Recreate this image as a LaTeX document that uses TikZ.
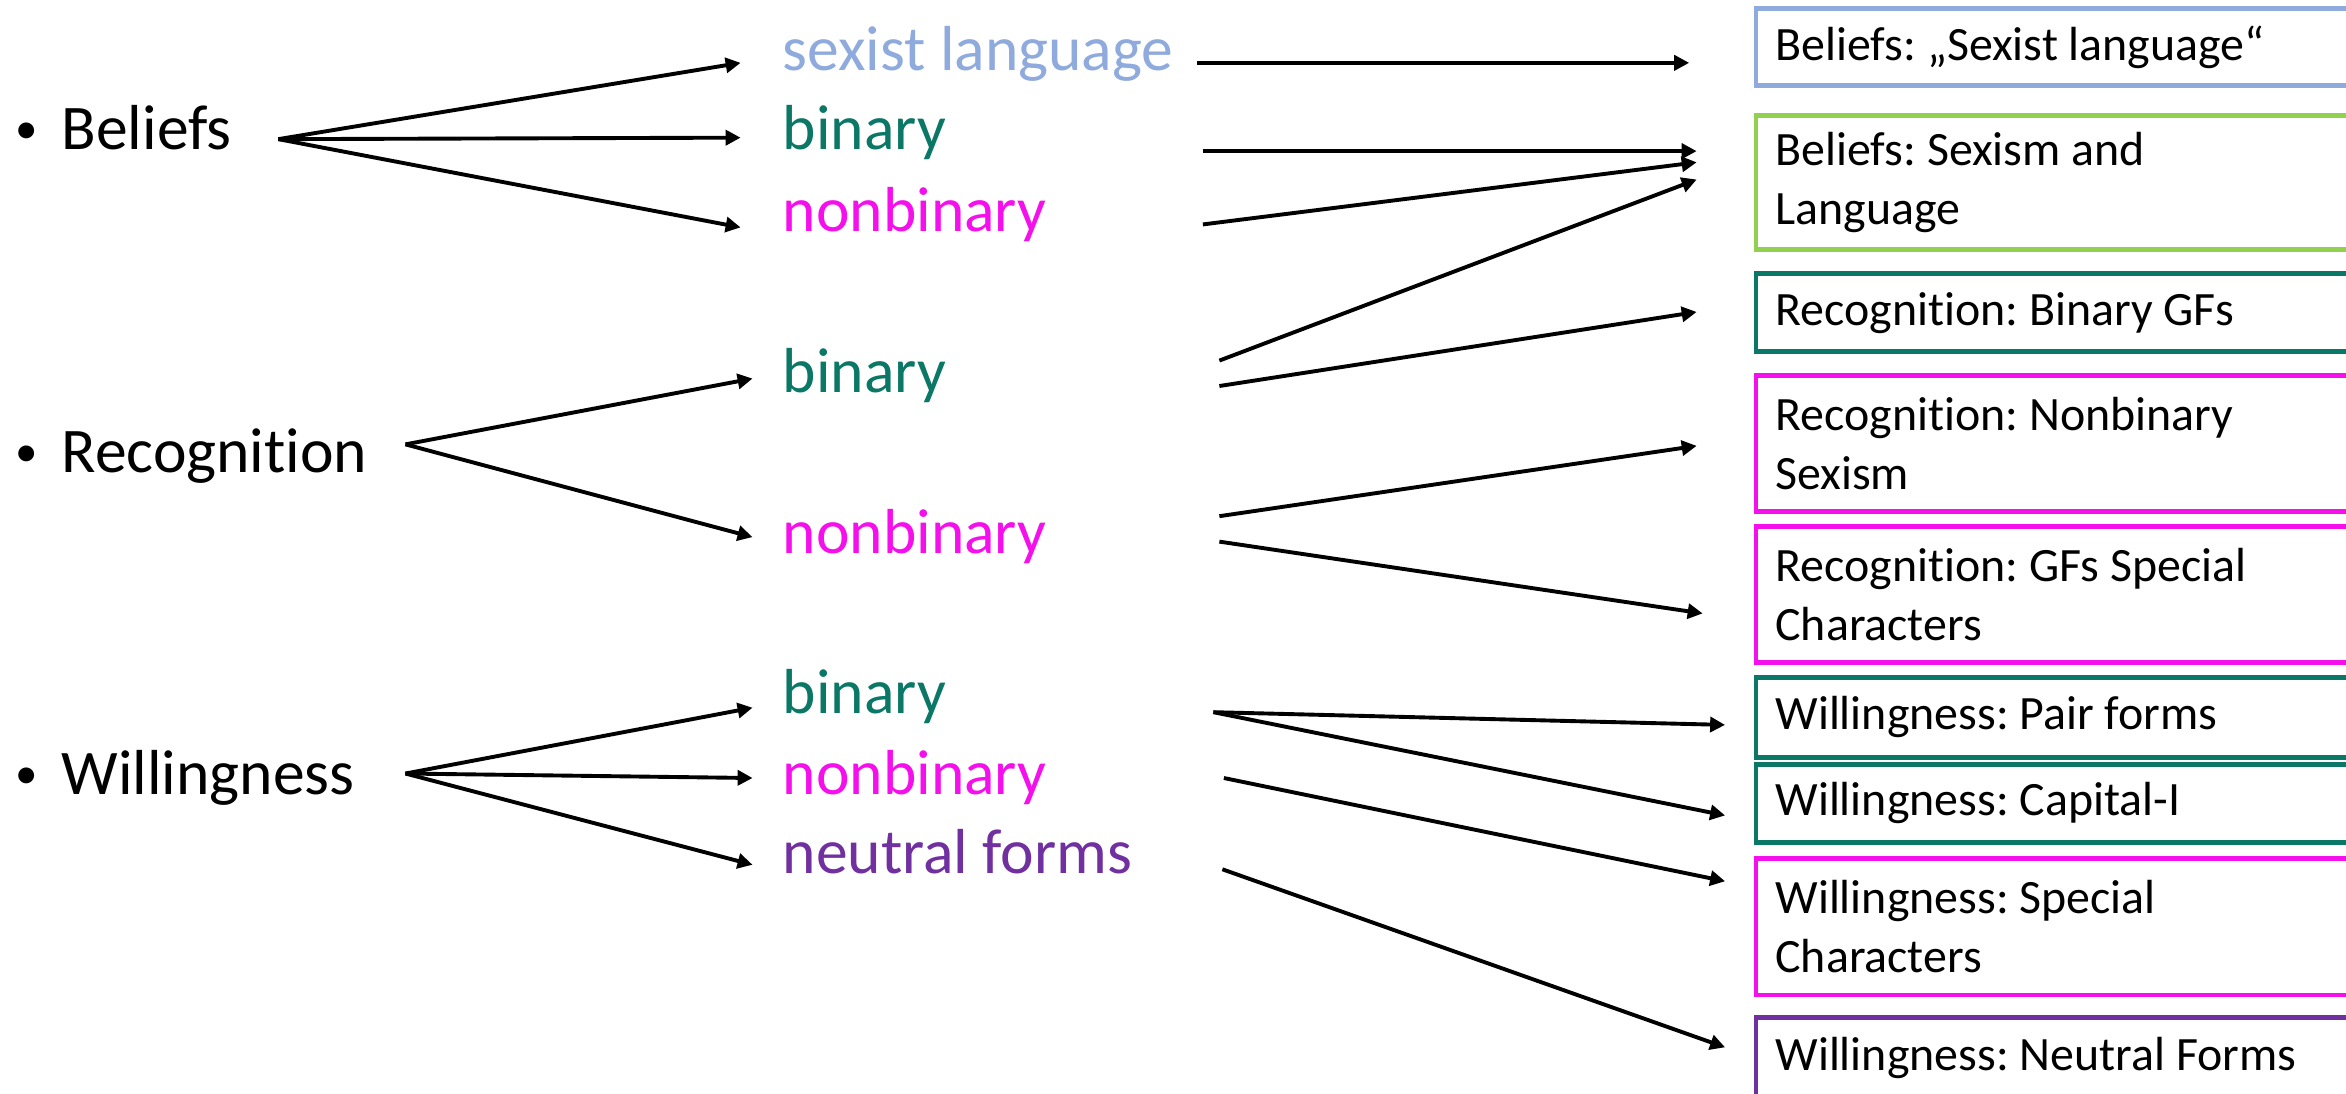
\documentclass[tikz,border=0pt]{standalone}
\usepackage{fontspec}
\setmainfont{Carlito}[Ligatures=NoCommon]
\usetikzlibrary{arrows.meta}

\definecolor{lblue}{HTML}{8FAADC}
\definecolor{lgreen}{HTML}{92D050}
\definecolor{dteal}{HTML}{0B7766}
\definecolor{magen}{HTML}{F50FEC}
\definecolor{purp}{HTML}{7030A0}

% bullet for the topic list
\newcommand{\topicbullet}{\makebox[31pt][l]{\raisebox{4pt}{\fontsize{30}{34}\selectfont •}}}

\begin{document}
\frenchspacing
\begin{tikzpicture}[x=1pt,y=-1pt,
  topic/.style={anchor=base west, inner sep=0pt, font=\fontsize{42.5}{50}\selectfont},
  option/.style={anchor=base west, inner sep=0pt, text=#1, font=\fontsize{42.5}{50}\selectfont},
  catbox/.style={draw=#1, line width=3.3pt, anchor=west, text width=474pt,
    inner xsep=13pt, inner ysep=0pt, align=flush left, font=\fontsize{32}{39.5}\selectfont},
  link/.style={line width=2.6pt, -{Triangle[length=10pt,width=10pt]}}]

\useasboundingbox (0,0) rectangle (1568,731);
\fill[white] (0,0) rectangle (1568,731);
\clip (0,0) rectangle (1568,731);

% left column: the three topics
\node[topic] (beliefs) at (10,100) {\topicbullet Beliefs};
\node[topic] (recog)   at (10,316) {\topicbullet Recognition};
\node[topic] (willing) at (10,531) {\topicbullet Willingness};

% middle column: sub-aspects
\node[option=lblue] (sl) at (523,46.8) {sexist language};
\node[option=dteal] (bb) at (523,100)  {binary};
\node[option=magen] (bn) at (523,155)  {nonbinary};
\node[option=dteal] (rb) at (523,262)  {binary};
\node[option=magen] (rn) at (523,370)  {nonbinary};
\node[option=dteal] (wb) at (523,477)  {binary};
\node[option=magen] (wn) at (523,531)  {nonbinary};
\node[option=purp]  (wf) at (523,584)  {neutral forms};

% right column: resulting scales
\node[catbox=lblue,  minimum height=52pt] (c1) at (1172,31.4)  {Beliefs: „Sexist language“};
\node[catbox=lgreen, minimum height=90pt] (c2) at (1172,122)   {Beliefs: Sexism and\\Language};
\node[catbox=dteal,  minimum height=52pt] (c3) at (1172,209)   {Recognition: Binary GFs};
\node[catbox=magen,  minimum height=91pt] (c4) at (1172,296.5) {Recognition: Nonbinary\\Sexism};
\node[catbox=magen,  minimum height=91pt] (c5) at (1172,397.5) {Recognition: GFs Special\\Characters};
\node[catbox=dteal,  minimum height=53pt] (c6) at (1172,479.5) {Willingness: Pair forms};
\node[catbox=dteal,  minimum height=52pt] (c7) at (1172,537)   {Willingness: Capital-I};
\node[catbox=magen,  minimum height=91pt] (c8) at (1172,619.5) {Willingness: Special\\Characters};
\node[catbox=purp,   minimum height=54pt] (c9) at (1172,707)   {Willingness: Neutral Forms};

% fan points between topics and sub-aspects
\coordinate (bfan) at (186,93);
\coordinate (bt1) at (495,42);
\coordinate (bt2) at (495,92);
\coordinate (bt3) at (495,152);
\coordinate (rfan) at (271,297);
\coordinate (rt1) at (503,253);
\coordinate (rt2) at (503,359);
\coordinate (wfan) at (271,517);
\coordinate (wt1) at (503,473);
\coordinate (wt2) at (503,520);
\coordinate (wt3) at (503,578);

\draw[link] (bfan) -- (bt1);
\draw[link] (bfan) -- (bt2);
\draw[link] (bfan) -- (bt3);
\draw[link] (rfan) -- (rt1);
\draw[link] (rfan) -- (rt2);
\draw[link] (wfan) -- (wt1);
\draw[link] (wfan) -- (wt2);
\draw[link] (wfan) -- (wt3);

% start and end points between sub-aspects and scales
\coordinate (sl-out) at (800,42);   \coordinate (c1-in)  at (1129,42);
\coordinate (bb-out) at (804,101);  \coordinate (c2-ina) at (1134,101);
\coordinate (bn-out) at (804,150);  \coordinate (c2-inb) at (1134,108.5);
\coordinate (rb-outa) at (815,241); \coordinate (c2-inc) at (1134,120);
\coordinate (rb-outb) at (815,258); \coordinate (c3-in)  at (1134,208.5);
\coordinate (rn-outa) at (815,345); \coordinate (c4-in)  at (1134,298);
\coordinate (rn-outb) at (815,362); \coordinate (c5-in)  at (1138,410);
\coordinate (wb-out) at (811,476);  \coordinate (c6-in)  at (1153,484.5);
                                    \coordinate (c7-in)  at (1153,545);
\coordinate (wn-out) at (818,520);  \coordinate (c8-in)  at (1153,589);
\coordinate (wf-out) at (817,581);  \coordinate (c9-in)  at (1153,700);

\draw[link] (sl-out) -- (c1-in);
\draw[link] (bb-out) -- (c2-ina);
\draw[link] (bn-out) -- (c2-inb);
\draw[link] (rb-outa) -- (c2-inc);
\draw[link] (rb-outb) -- (c3-in);
\draw[link] (rn-outa) -- (c4-in);
\draw[link] (rn-outb) -- (c5-in);
\draw[link] (wb-out) -- (c6-in);
\draw[link] (wb-out) -- (c7-in);
\draw[link] (wn-out) -- (c8-in);
\draw[link] (wf-out) -- (c9-in);
\end{tikzpicture}
\end{document}
